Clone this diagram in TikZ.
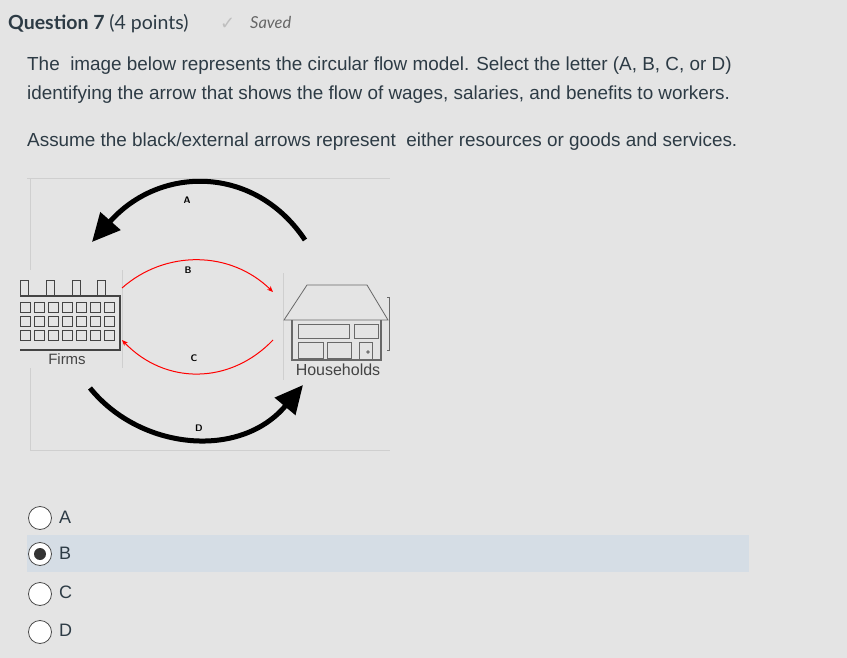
\documentclass[tikz,border=0pt]{standalone}
\usepackage{fontspec}
\setmainfont{Liberation Sans}
\newfontfamily\latofont{Lato}
\newfontfamily\dejavu{DejaVu Sans}
\usetikzlibrary{arrows.meta}
\definecolor{bg}{HTML}{E4E4E4}
\definecolor{band}{HTML}{D5DDE5}
\definecolor{txt}{HTML}{2D3B45}
\definecolor{frame}{HTML}{CFCFCF}
\definecolor{bld}{HTML}{444444}
\tikzset{
  body/.style={anchor=base west,text=txt,font=\fontsize{18.9}{22}\selectfont,inner sep=0},
  big/.style={line width=5pt,-{Triangle[length=28pt,width=26pt]}},
  redarr/.style={draw=red,line width=1pt,-{Stealth[length=6pt,width=5pt]}},
  lab/.style={font=\sffamily\bfseries\fontsize{9.5}{10}\selectfont,inner sep=0},
  radio/.style={circle,draw=black!70,fill=white,minimum size=23pt,inner sep=0,line width=0.8pt},
  opt/.style={anchor=west,font=\fontsize{18}{20}\selectfont,text=txt,inner sep=0},
}
\begin{document}
\begin{tikzpicture}[x=1pt,y=-1pt]
\useasboundingbox (0,0) rectangle (847,658);
\fill[bg] (0,0) rectangle (847,658);
\node[anchor=base west,inner sep=0,text=txt] (q) at (8,30) {\latofont\fontsize{19.5}{22}\selectfont\bfseries Question 7 \mdseries(4 points)};
\node[anchor=base west,inner sep=0,text=black!25] (chk) at (220,30) {\dejavu\fontsize{18}{20}\selectfont ✓};
\node[anchor=base west,inner sep=0,text=black!60] (sv) at (250,29) {\latofont\itshape\fontsize{16.5}{18}\selectfont Saved};
\node[body] (t1) at (27,71) {The \ image below represents the circular flow model. Select the letter (A, B, C, or D)};
\node[body] (t2) at (27,100) {identifying the arrow that shows the flow of wages, salaries, and benefits to workers.};
\node[body] (t3) at (27,147) {Assume the black/external arrows represent \ either resources or goods and services.};
% frame
\draw[frame,line width=1pt] (27,179) -- (390,179);
\draw[frame,line width=1pt] (30,179) -- (30,270);
\draw[frame,line width=1pt] (30,368) -- (30,450) -- (390,450);
\draw[frame,line width=0.8pt] (122,270) -- (122,368);
\draw[frame,line width=0.8pt] (283,273) -- (283,380);
% factory
\begin{scope}[draw=bld,line width=1pt]
\foreach \cx in {20,46,72,97} \draw (\cx,296) -- (\cx,280) -- (\cx+8,280) -- (\cx+8,296);
\draw[line width=1.6pt] (20,296) -- (120,296) -- (120,350) -- (20,350);
\foreach \r in {0,1,2} \foreach \c in {0,...,6}
  \draw (24+\c*14-4,302+\r*14) rectangle ++(10,10);
\end{scope}
\node[font=\fontsize{15}{16}\selectfont,text=bld] (firms) at (67,359) {Firms};
% house
\begin{scope}[draw=bld!80,line width=0.8pt]
\draw (284,320) -- (307,285) -- (367,285) -- (388,320) -- cycle;
\draw[line width=1.2pt] (292,320) -- (292,360) -- (381,360) -- (381,320);
\draw (298,324) rectangle (349,338);
\draw (354,324) rectangle (378,338);
\draw (298,342) rectangle (323,358);
\draw (327,342) rectangle (351,358);
\draw (359,342) rectangle (372,360);
\draw (368,352) circle (1.2);
\draw (387,297) -- (389,297) -- (389,350) -- (387,350);
\end{scope}
\node[font=\fontsize{16}{18}\selectfont,text=bld] (hh) at (338,370) {Households};
% arrows
\coordinate (a1) at (305,240); \coordinate (a2) at (92,242);
\coordinate (b1) at (122,288); \coordinate (b2) at (273,292);
\coordinate (c1) at (273,340); \coordinate (c2) at (122,340);
\coordinate (d1) at (90,388); \coordinate (d2) at (303,385);
\draw[big] (a1) .. controls (255,165) and (160,165) .. (a2);
\draw[redarr] (b1) .. controls (165,250) and (230,250) .. (b2);
\draw[redarr] (c1) .. controls (230,385) and (165,385) .. (c2);
\draw[big] (d1) .. controls (140,450) and (240,460) .. (d2);
\node[lab] (A) at (187,200) {A};
\node[lab] (B) at (188,270) {B};
\node[lab] (C) at (194,358) {C};
\node[lab] (D) at (199,428) {D};
% options
\fill[band] (27,535) rectangle (749,572);
\node[radio] (r1) at (40,518) {};
\node[radio] (r2) at (40,554) {};
\fill[black!80] (r2) circle (6);
\node[radio] (r3) at (40,594) {};
\node[radio] (r4) at (40,632) {};
\node[opt] (o1) at (59,517) {A};
\node[opt] (o2) at (59,553) {B};
\node[opt] (o3) at (59,592) {C};
\node[opt] (o4) at (59,630) {D};
\end{tikzpicture}
\end{document}
